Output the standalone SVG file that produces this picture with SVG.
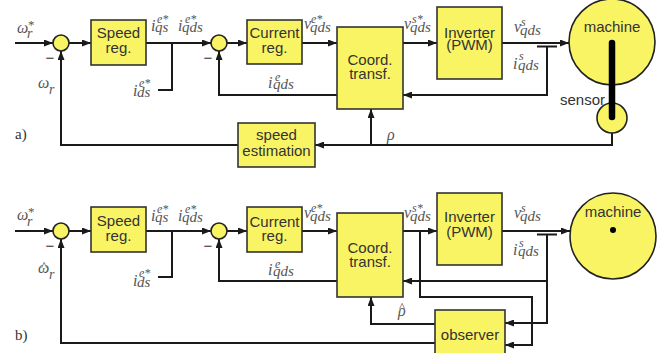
<svg xmlns="http://www.w3.org/2000/svg" width="664" height="353" viewBox="0 0 664 353">
<style>
.box{fill:#F9F464;stroke:#333;stroke-width:1.6}
.sum{fill:#F9F464;stroke:#222;stroke-width:1.6}
.bt{font-family:"Liberation Sans",Arial,sans-serif;font-size:15px;fill:#333;text-anchor:middle}
.ln{fill:none;stroke:#1a1a1a;stroke-width:2}
.ar{marker-end:url(#ah)}
.m{font-family:"Liberation Serif","Times New Roman",serif;font-style:italic;font-size:16px;fill:#555}
.sb{font-size:15px}
.sr{font-size:14px}
.sp{font-size:12px}
.st{font-size:13px;font-style:normal}
.lb{font-family:"Liberation Serif","Times New Roman",serif;font-size:15px;fill:#333}
.mi{font-family:"Liberation Sans",Arial,sans-serif;font-size:15px;fill:#333}
</style>
<defs>
<marker id="ah" markerWidth="9" markerHeight="7" refX="9" refY="3.5" orient="auto" markerUnits="userSpaceOnUse">
<path d="M0,0 L9,3.5 L0,7 z" fill="#1a1a1a"/>
</marker>
</defs>
<rect width="664" height="353" fill="#fff"/>

<!-- ===== Part a ===== -->
<g id="connectors-a">
<path class="ln ar" d="M15,43 H53"/>
<path class="ln ar" d="M69,43 H91"/>
<path class="ln ar" d="M146,43 H211"/>
<path class="ln" d="M158,90 H172 V43"/>
<path class="ln ar" d="M227,43 H247"/>
<path class="ln ar" d="M302,43 H337"/>
<path class="ln ar" d="M403,43 H437"/>
<path class="ln ar" d="M502,43 H569"/>
<path class="ln" d="M537,46.5 H557"/>
<path class="ln ar" d="M547,46.5 V95 H403"/>
<path class="ln ar" d="M337,95 H219 V51"/>
<path class="ln ar" d="M612,133 V145 H315"/>
<path class="ln ar" d="M238,145 H61 V51"/>
<path class="ln ar" d="M371,145 V109"/>
</g>
<g id="sum1-a"><circle class="sum" cx="61" cy="43" r="8"/><text class="mi" x="50" y="63" text-anchor="middle">−</text></g>
<g id="sum2-a"><circle class="sum" cx="219" cy="43" r="8"/><text class="mi" x="208" y="63" text-anchor="middle">−</text></g>
<g id="speedreg-a"><rect class="box" x="91" y="20" width="55" height="45"/><text class="bt" x="118.5" y="38">Speed</text><text class="bt" x="118.5" y="53">reg.</text></g>
<g id="currentreg-a"><rect class="box" x="247" y="20" width="55" height="44"/><text class="bt" x="274.5" y="38">Current</text><text class="bt" x="274.5" y="53">reg.</text></g>
<g id="coord-a"><rect class="box" x="337" y="27" width="66" height="82"/><text class="bt" x="370" y="65">Coord.</text><text class="bt" x="370" y="79">transf.</text></g>
<g id="inverter-a"><rect class="box" x="437" y="7" width="65" height="72"/><text class="bt" x="469.5" y="38">Inverter</text><text class="bt" x="469.5" y="50">(PWM)</text></g>
<g id="speedest-a"><rect class="box" x="238" y="123" width="77" height="44"/><text class="bt" x="276.5" y="140">speed</text><text class="bt" x="276.5" y="156">estimation</text></g>
<g id="machine-a">
<circle class="sum" cx="612" cy="42" r="43"/>
<text class="bt" x="612" y="32">machine</text>
</g>
<g id="sensor-a">
<circle class="sum" cx="612" cy="118" r="15"/>
<line x1="612" y1="43" x2="612" y2="117" stroke="#000" stroke-width="6.5" stroke-linecap="round"/>
<text class="mi" x="560" y="105">sensor</text>
</g>
<g id="labels-a">
<text class="m" x="17" y="33">ω<tspan class="st" x="28" y="29">*</tspan><tspan class="sr" x="27" y="38">r</tspan></text>
<text class="m" x="38" y="88">ω<tspan class="sr" x="49" y="94">r</tspan></text>
<text class="m" x="151" y="31">i<tspan class="sp" x="157" y="23">e*</tspan><tspan class="sb" x="155" y="32">qs</tspan></text>
<text class="m" x="178" y="31">i<tspan class="sp" x="185" y="23">e*</tspan><tspan class="sb" x="182" y="32">qds</tspan></text>
<text class="m" x="133" y="96">i<tspan class="sp" x="139" y="87">e*</tspan><tspan class="sb" x="137" y="97">ds</tspan></text>
<text class="m" x="304" y="29">v<tspan class="sp" x="311" y="23">e*</tspan><tspan class="sb" x="310" y="32">qds</tspan></text>
<text class="m" x="404" y="29">v<tspan class="sp" x="412" y="23">s*</tspan><tspan class="sb" x="410" y="32">qds</tspan></text>
<text class="m" x="268" y="88">i<tspan class="sp" x="275" y="81">e</tspan><tspan class="sb" x="273" y="89">qds</tspan></text>
<text class="m" x="514" y="32">v<tspan class="sp" x="521" y="26">s</tspan><tspan class="sb" x="520" y="35">qds</tspan></text>
<text class="m" x="513" y="69">i<tspan class="sp" x="519" y="60">s</tspan><tspan class="sb" x="518" y="70">qds</tspan></text>
<text class="m" x="387" y="140" font-style="normal">ρ</text>
<text class="lb" x="15" y="139">a)</text>
</g>

<!-- ===== Part b ===== -->
<g id="connectors-b">
<path class="ln ar" d="M15,231 H53"/>
<path class="ln ar" d="M69,231 H91"/>
<path class="ln ar" d="M146,231 H211"/>
<path class="ln" d="M158,277 H172 V231"/>
<path class="ln ar" d="M227,231 H247"/>
<path class="ln ar" d="M302,231 H337"/>
<path class="ln ar" d="M403,231 H437"/>
<path class="ln ar" d="M502,231 H570"/>
<path class="ln" d="M537,234.5 H557"/>
<path class="ln ar" d="M547,234.5 V323 H505"/>
<path class="ln ar" d="M547,281 H403"/>
<path class="ln ar" d="M337,281 H219 V239"/>
<path class="ln ar" d="M420,231 V297 H532 V345 H505"/>
<path class="ln ar" d="M435,324 H371 V297"/>
<path class="ln ar" d="M435,343 H61 V239"/>
</g>
<g id="sum1-b"><circle class="sum" cx="61" cy="231" r="8"/><text class="mi" x="50" y="251" text-anchor="middle">−</text></g>
<g id="sum2-b"><circle class="sum" cx="219" cy="231" r="8"/><text class="mi" x="208" y="251" text-anchor="middle">−</text></g>
<g id="speedreg-b"><rect class="box" x="91" y="207" width="55" height="45"/><text class="bt" x="118.5" y="226">Speed</text><text class="bt" x="118.5" y="241">reg.</text></g>
<g id="currentreg-b"><rect class="box" x="247" y="207" width="55" height="45"/><text class="bt" x="274.5" y="227">Current</text><text class="bt" x="274.5" y="241">reg.</text></g>
<g id="coord-b"><rect class="box" x="337" y="213" width="66" height="84"/><text class="bt" x="370" y="253">Coord.</text><text class="bt" x="370" y="267">transf.</text></g>
<g id="inverter-b"><rect class="box" x="437" y="193" width="65" height="72"/><text class="bt" x="469.5" y="222">Inverter</text><text class="bt" x="469.5" y="237">(PWM)</text></g>
<g id="observer-b"><rect class="box" x="435" y="310" width="70" height="50"/><text class="bt" x="470" y="340">observer</text></g>
<g id="machine-b">
<circle class="sum" cx="613" cy="236" r="43"/>
<circle cx="613" cy="230" r="3" fill="#000"/>
<text class="bt" x="613" y="217">machine</text>
</g>
<g id="labels-b">
<text class="m" x="17" y="220">ω<tspan class="st" x="28" y="216">*</tspan><tspan class="sr" x="27" y="226">r</tspan></text>
<text class="m" x="38" y="273">ω<tspan class="st" x="41" y="270">^</tspan><tspan class="sr" x="49" y="279">r</tspan></text>
<text class="m" x="151" y="221">i<tspan class="sp" x="157" y="213">e*</tspan><tspan class="sb" x="155" y="222">qs</tspan></text>
<text class="m" x="178" y="221">i<tspan class="sp" x="185" y="213">e*</tspan><tspan class="sb" x="182" y="222">qds</tspan></text>
<text class="m" x="133" y="286">i<tspan class="sp" x="139" y="277">e*</tspan><tspan class="sb" x="137" y="287">ds</tspan></text>
<text class="m" x="304" y="218">v<tspan class="sp" x="311" y="212">e*</tspan><tspan class="sb" x="310" y="221">qds</tspan></text>
<text class="m" x="404" y="218">v<tspan class="sp" x="412" y="212">s*</tspan><tspan class="sb" x="410" y="221">qds</tspan></text>
<text class="m" x="268" y="275">i<tspan class="sp" x="275" y="268">e</tspan><tspan class="sb" x="273" y="276">qds</tspan></text>
<text class="m" x="514" y="218">v<tspan class="sp" x="521" y="212">s</tspan><tspan class="sb" x="520" y="221">qds</tspan></text>
<text class="m" x="513" y="255">i<tspan class="sp" x="519" y="247">s</tspan><tspan class="sb" x="518" y="256">qds</tspan></text>
<text class="m" x="398" y="316" font-style="normal">ρ<tspan class="st" x="399" y="311">^</tspan></text>
<text class="lb" x="15" y="340">b)</text>
</g>
</svg>
